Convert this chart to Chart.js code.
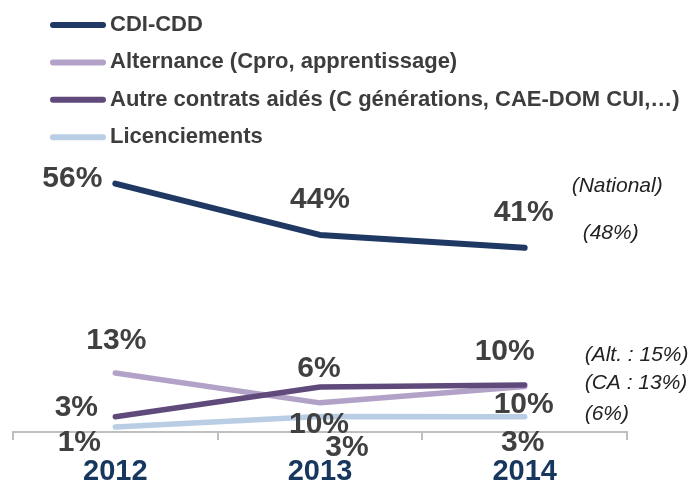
<!DOCTYPE html>
<html lang="fr">
<head>
<meta charset="utf-8">
<title>Contrats signés</title>
<script src="https://cdn.jsdelivr.net/npm/chart.js@4/dist/chart.umd.min.js"></script>
<style>
  html, body { margin: 0; padding: 0; background: #fff; }
</style>
</head>
<body>
<canvas id="contratsChart" width="692" height="483"></canvas>
<script>
// Data
const years = ['2012', '2013', '2014'];
const seriesNames = [
  'CDI-CDD',
  'Alternance (Cpro, apprentissage)',
  'Autre contrats aidés (C générations, CAE-DOM CUI,…)',
  'Licenciements'
];
const cdiCdd = [56, 44, 41];
const alternance = [15.2, 7.5, 11.7];
const autresAides = [3.9, 11.6, 12.1];
const licenciements = [1.3, 4.0, 3.9];

// Value labels as printed next to the points
const cdiLabels = ['56%', '44%', '41%'];
const alternanceLabels = ['13%', '10%', '10%'];
const autresLabels = ['3%', '6%', '10%'];
const licLabels = ['1%', '3%', '3%'];

// National comparison notes on the right
const nationalNotes = ['(National)', '(48%)', '(Alt. : 15%)', '(CA : 13%)', '(6%)'];

const colors = ['#1F3864', '#B3A2C7', '#604A7B', '#B9CDE5'];
const FONT = '"Liberation Sans", Arial, sans-serif';

// Label offsets from each point (dx, dy)
const labelOffsets = [
  [[-43, -5], [0, -35], [-1, -35]],
  [[1, -32], [-1, 22], [-20, -35]],
  [[-39, -9], [-1, -18], [-1, 20]],
  [[-36, 16], [27, 31], [-2, 26]]
];
// Notes: series they sit next to, offset from that series' last point
const noteAnchors = [
  { series: 0, dx: 47, dy: -62 },
  { series: 0, dx: 58, dy: -15 },
  { series: 1, dx: 60, dy: -31 },
  { series: 2, dx: 60, dy: -2 },
  { series: 3, dx: 60, dy: -3 }
];

const allLabels = [cdiLabels, alternanceLabels, autresLabels, licLabels];

// Draws the value labels and the national notes
const pointLabels = {
  id: 'pointLabels',
  afterDatasetsDraw(chart) {
    const ctx = chart.ctx;
    ctx.save();
    ctx.textAlign = 'center';
    ctx.textBaseline = 'middle';
    ctx.fillStyle = '#404040';
    ctx.font = 'bold 30px ' + FONT;
    allLabels.forEach((texts, i) => {
      const meta = chart.getDatasetMeta(i);
      meta.data.forEach((pt, j) => {
        const off = labelOffsets[i][j];
        ctx.fillText(texts[j], pt.x + off[0], pt.y + off[1]);
      });
    });

    ctx.textAlign = 'left';
    ctx.fillStyle = '#222222';
    ctx.font = 'italic 21px ' + FONT;
    nationalNotes.forEach((note, k) => {
      const a = noteAnchors[k];
      const pts = chart.getDatasetMeta(a.series).data;
      const last = pts[pts.length - 1];
      ctx.fillText(note, last.x + a.dx, last.y + a.dy);
    });
    ctx.restore();
  }
};

// Legend stacked one item per row at the top
const stackedLegend = {
  id: 'stackedLegend',
  afterDraw(chart) {
    const ctx = chart.ctx;
    ctx.save();
    ctx.textAlign = 'left';
    ctx.textBaseline = 'middle';
    ctx.font = 'bold 22px ' + FONT;
    ctx.lineCap = 'round';
    ctx.lineWidth = 6;
    chart.data.datasets.forEach((ds, i) => {
      const y = 25 + i * 37.4;
      ctx.strokeStyle = ds.borderColor;
      ctx.beginPath();
      ctx.moveTo(53, y);
      ctx.lineTo(103, y);
      ctx.stroke();
      ctx.fillStyle = '#3D3D3D';
      ctx.fillText(ds.label, 110, y);
    });
    ctx.restore();
  }
};

function lineDataset(i, data, axis, width, order) {
  return {
    label: seriesNames[i],
    data: data,
    yAxisID: axis,
    borderColor: colors[i],
    backgroundColor: colors[i],
    borderWidth: width,
    borderCapStyle: 'round',
    borderJoinStyle: 'round',
    pointRadius: 0,
    tension: 0,
    fill: false,
    clip: false,
    order: order
  };
}

new Chart(document.getElementById('contratsChart'), {
  type: 'line',
  data: {
    labels: years,
    datasets: [
      lineDataset(0, cdiCdd, 'yTop', 6, 0),
      lineDataset(1, alternance, 'y', 5.5, 2),
      lineDataset(2, autresAides, 'y', 5.5, 1),
      lineDataset(3, licenciements, 'y', 5.5, 3)
    ]
  },
  options: {
    responsive: false,
    animation: false,
    layout: { padding: { top: 160, left: 13, right: 65, bottom: 0 } },
    plugins: {
      legend: { display: false },
      tooltip: { enabled: false }
    },
    scales: {
      x: {
        offset: true,
        grid: {
          offset: true,
          drawOnChartArea: false,
          drawTicks: true,
          tickLength: 8,
          color: '#BFBFBF',
          lineWidth: 2
        },
        border: { display: true, color: '#BFBFBF', width: 2 },
        ticks: {
          color: '#17375E',
          padding: 15,
          font: { family: FONT, size: 29, weight: 'bold' }
        },
        afterFit(scale) { scale.height = 51; }
      },
      y: { display: false, min: 0, max: 70 },
      yTop: { display: false, min: -2, max: 61.5 }
    }
  },
  plugins: [pointLabels, stackedLegend]
});
</script>
</body>
</html>
